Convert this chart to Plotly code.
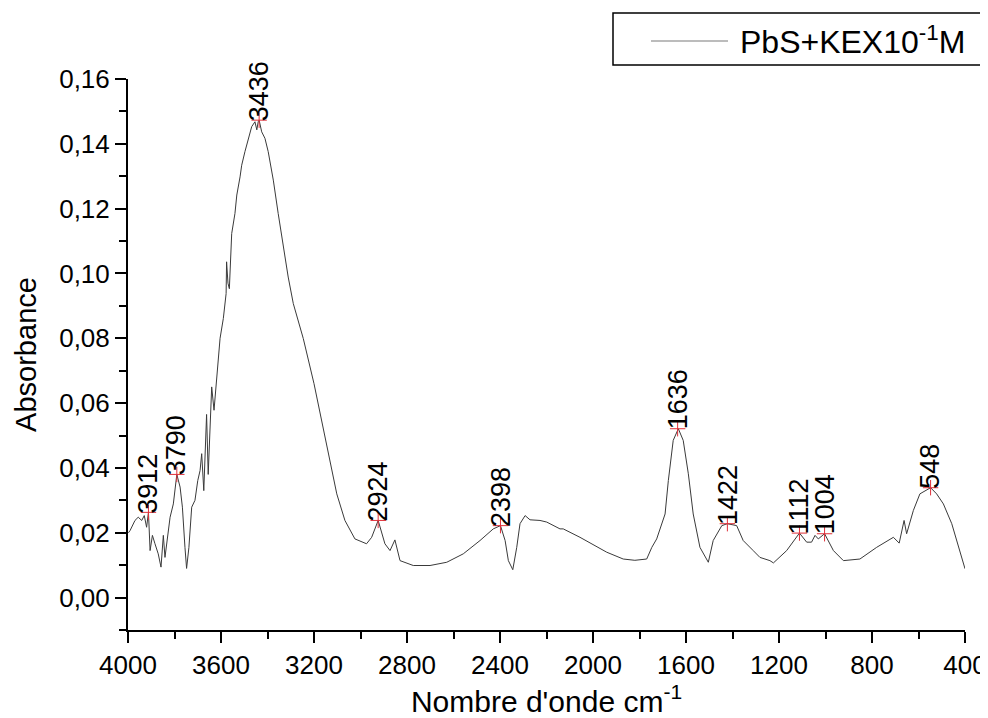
import plotly.graph_objects as go

# ---- data ----
wavenumber = [
    3998, 3991, 3970, 3956, 3941, 3930, 3920, 3912, 3905, 3895, 3884, 3870, 3858,
    3848, 3841, 3829, 3819, 3805, 3790, 3776, 3766, 3755, 3748, 3738, 3726, 3712,
    3700, 3690, 3683, 3674, 3662, 3655, 3647, 3640, 3630, 3619, 3612, 3604, 3590,
    3578, 3576, 3570, 3564, 3554, 3540, 3532, 3518, 3511, 3497, 3483, 3468, 3454,
    3446, 3440, 3436, 3425, 3411, 3397, 3375, 3354, 3332, 3311, 3289, 3268, 3246,
    3200, 3160, 3131, 3102, 3067, 3024, 2974, 2952, 2924, 2895, 2873, 2852, 2830,
    2773, 2701, 2629, 2558, 2486, 2429, 2398, 2378, 2364, 2345, 2328, 2314, 2292,
    2271, 2228, 2199, 2142, 2128, 2085, 2056, 1941, 1870, 1820, 1769, 1747, 1726,
    1690, 1676, 1655, 1633, 1612, 1590, 1569, 1540, 1504, 1483, 1446, 1422, 1382,
    1354, 1311, 1282, 1239, 1224, 1167, 1124, 1112, 1081, 1060, 1045, 1031, 1004,
    966, 923, 852, 780, 708, 683, 662, 651, 622, 594, 548, 522, 493, 457, 421, 400,
]
absorbance = [
    0.0200, 0.0207, 0.0238, 0.0248, 0.0238, 0.0253, 0.0217, 0.0263, 0.0145, 0.0192,
    0.0166, 0.0135, 0.0094, 0.0192, 0.0124, 0.0197, 0.0248, 0.0289, 0.0380, 0.0341,
    0.0279, 0.0155, 0.0090, 0.0155, 0.0279, 0.0300, 0.0361, 0.0392, 0.0444, 0.0330,
    0.0565, 0.0380, 0.0547, 0.0650, 0.0578, 0.0665, 0.0720, 0.0800, 0.0861, 0.0938,
    0.1036, 0.0970, 0.0953, 0.1123, 0.1185, 0.1242, 0.1298, 0.1334, 0.1376, 0.1412,
    0.1453, 0.1468, 0.1443, 0.1468, 0.1473, 0.1437, 0.1417, 0.1376, 0.1288, 0.1185,
    0.1082, 0.0989, 0.0907, 0.0856, 0.0799, 0.0660, 0.0520, 0.0418, 0.0320, 0.0238,
    0.0181, 0.0166, 0.0186, 0.0238, 0.0166, 0.0145, 0.0178, 0.0114, 0.0099, 0.0099,
    0.0109, 0.0135, 0.0176, 0.0212, 0.0222, 0.0176, 0.0114, 0.0086, 0.0155, 0.0228,
    0.0253, 0.0240, 0.0238, 0.0233, 0.0212, 0.0212, 0.0197, 0.0186, 0.0140, 0.0119,
    0.0115, 0.0119, 0.0155, 0.0181, 0.0258, 0.0361, 0.0485, 0.0521, 0.0485, 0.0382,
    0.0258, 0.0155, 0.0109, 0.0176, 0.0222, 0.0228, 0.0222, 0.0176, 0.0145, 0.0124,
    0.0114, 0.0107, 0.0145, 0.0186, 0.0199, 0.0171, 0.0171, 0.0192, 0.0181, 0.0197,
    0.0145, 0.0114, 0.0119, 0.0155, 0.0186, 0.0168, 0.0238, 0.0197, 0.0269, 0.0320,
    0.0339, 0.0320, 0.0289, 0.0228, 0.0135, 0.0089,
]

peak_positions = [3912, 3790, 3436, 2924, 2398, 1636, 1422, 1112, 1004, 548]
peak_values = [0.0263, 0.0380, 0.1473, 0.0238, 0.0222, 0.0521, 0.0228, 0.0199, 0.0197, 0.0339]
peak_labels = ["3912", "3790", "3436", "2924", "2398", "1636", "1422", "1112", "1004", "548"]

series_name = "PbS+KEX10<sup>-1</sup>M"
x_title = "Nombre d'onde cm<sup>-1</sup>"
y_title = "Absorbance"

FONT = "Liberation Sans, Arial, sans-serif"

# The page body adds an 8 px offset, so the figure is 8 px smaller than the window.
OFF = 8
W, H = 988 - OFF, 718 - OFF
# plot area in window pixels
L, R, T, B = 128, 965, 79, 630

def px_x(p):
    return (p - L) / (R - L)

def px_y(p):
    return (B - p) / (B - T)

fig = go.Figure()
fig.add_trace(go.Scatter(
    x=wavenumber, y=absorbance, mode="lines", name=series_name,
    line=dict(color="#3a3a3a", width=1), showlegend=False,
))
fig.add_trace(go.Scatter(
    x=peak_positions, y=peak_values, mode="markers", showlegend=False,
    marker=dict(symbol="cross-thin", size=11, line=dict(color="#e0303a", width=1)),
))

for px, py, lab in zip(peak_positions, peak_values, peak_labels):
    fig.add_annotation(
        x=px, y=py, text=lab, textangle=-90, showarrow=False,
        xanchor="center", yanchor="bottom", yshift=-3,
        font=dict(family=FONT, size=27, color="#000000"),
    )

# Legend box at top right (runs off the page edge like the reference)
fig.add_shape(type="rect", xref="paper", yref="paper",
              x0=px_x(613), x1=px_x(1010), y0=px_y(65), y1=px_y(13),
              line=dict(color="#000000", width=1.5), fillcolor="white", layer="above")
fig.add_shape(type="line", xref="paper", yref="paper",
              x0=px_x(651), x1=px_x(728), y0=px_y(41), y1=px_y(41),
              line=dict(color="#7a7a7a", width=1.2), layer="above")
fig.add_annotation(xref="paper", yref="paper",
                   x=px_x(738), y=px_y(40),
                   xanchor="left", yanchor="middle", showarrow=False,
                   text=series_name,
                   font=dict(family=FONT, size=32, color="#000000"))

fig.update_layout(
    width=W, height=H,
    margin=dict(l=L - OFF, r=988 - R, t=T - OFF, b=718 - B),
    paper_bgcolor="white", plot_bgcolor="white",
    separators=", ",
    font=dict(family=FONT, color="#000000"),
)
fig.update_xaxes(
    range=[4000, 400], tick0=0, dtick=400, automargin=False,
    showgrid=False, zeroline=False,
    showline=True, linecolor="#000000", linewidth=2,
    ticks="outside", ticklen=11, tickwidth=2, tickcolor="#000000",
    minor=dict(dtick=200, ticks="outside", ticklen=7, tickwidth=2, tickcolor="#000000", showgrid=False),
    tickfont=dict(family=FONT, size=26),
    title=dict(text=x_title, font=dict(family=FONT, size=30), standoff=25),
)
fig.update_yaxes(
    range=[-0.01, 0.16], tick0=0, dtick=0.02, tickformat=".2f", automargin=False,
    showgrid=False, zeroline=False,
    showline=True, linecolor="#000000", linewidth=2,
    ticks="outside", ticklen=11, tickwidth=2, tickcolor="#000000",
    minor=dict(dtick=0.01, ticks="outside", ticklen=7, tickwidth=2, tickcolor="#000000", showgrid=False),
    tickfont=dict(family=FONT, size=26),
    title=dict(text=y_title, font=dict(family=FONT, size=29), standoff=14),
)

fig.write_html("out.html")
